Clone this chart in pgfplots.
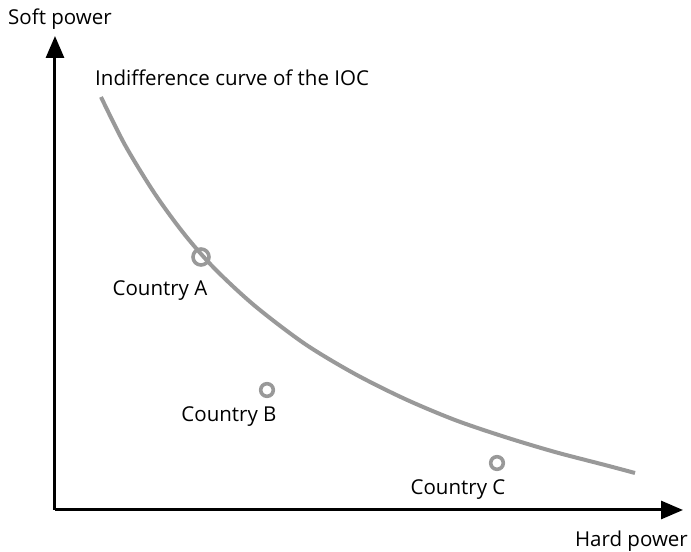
\documentclass[border=0pt]{standalone}
\usepackage{pgfplots}
\pgfplotsset{compat=1.18}
\usetikzlibrary{arrows.meta}
\usepackage{fontspec}
\setmainfont{Open Sans}
\definecolor{curvegray}{HTML}{999999}

\begin{document}
\begin{tikzpicture}[lbl/.style={font=\fontsize{20.5}{24}\selectfont, text=black, inner sep=0pt}]
\begin{axis}[
    x=1pt, y=1pt,
    xmin=0, xmax=628, ymin=0, ymax=474,
    axis lines=left,
    axis line style={line width=3pt, -{Triangle[length=22pt,width=18pt]}},
    xtick=\empty, ytick=\empty,
    clip=false,
  ]
  % invisible frame to fix the page size
  \path (axis cs:-55,-40) rectangle (axis cs:636,510);

  % indifference curve
  \addplot[curvegray, line width=4pt, smooth] coordinates {
    (46,413) (70,365) (100,316) (130,275) (160,241) (200,204) (250,166)
    (300,136) (350,111) (400,90) (450,73) (500,58) (550,45) (580,37)
  };

  % countries
  \addplot[only marks, mark=o, mark size=8pt, curvegray, line width=3.6pt] coordinates {(146,253)};
  \addplot[only marks, mark=o, mark size=6.3pt, curvegray, line width=3.6pt] coordinates {(212,120) (442,47)};

  \node[lbl, anchor=west] at (axis cs:-47,491) {Soft power};
  \node[lbl, anchor=west] at (axis cs:40,432) {Indifference curve of the IOC};
  \node[lbl] at (axis cs:105,219) {Country A};
  \node[lbl] at (axis cs:174,93) {Country B};
  \node[lbl] at (axis cs:403,20) {Country C};
  \node[lbl, anchor=east] at (axis cs:633,-31) {Hard power};
\end{axis}
\end{tikzpicture}
\end{document}
